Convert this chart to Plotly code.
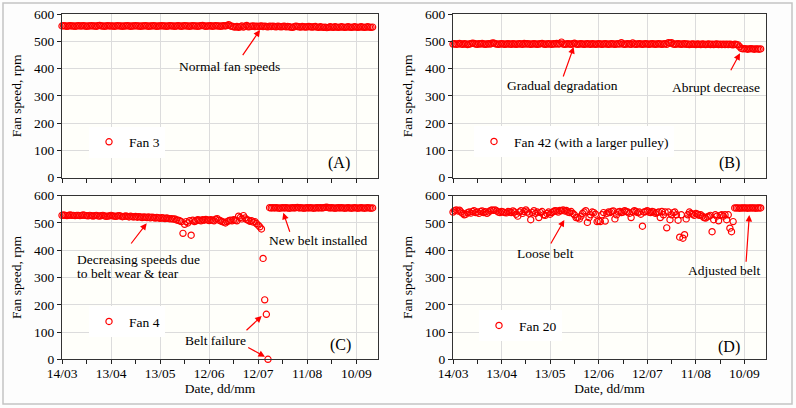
import pandas as pd
import plotly.graph_objects as go

W, H = 796, 408
START = "2015-03-14"

# ---------------- data (daily readings, starting 14/03) ----------------
fan3 = [556,557,556,555,556,557,556,556,555,556,
        557,556,556,557,556,555,556,556,557,556,
        556,555,557,558,556,556,555,556,557,556,
        556,556,555,556,557,556,556,555,556,556,
        557,556,555,556,556,557,556,556,555,556,
        556,557,556,555,556,556,557,556,555,556,
        556,557,556,556,555,556,557,556,556,555,
        556,557,556,555,556,557,556,556,555,556,
        557,556,556,555,556,557,558,556,555,556,
        556,557,555,556,557,556,556,555,556,557,
        556,558,561,556,555,553,552,554,551,553,
        556,552,555,558,553,554,555,556,554,555,
        554,555,556,554,555,554,553,555,554,555,
        554,553,555,554,553,554,555,553,554,553,
        552,551,553,555,554,553,552,554,553,552,
        553,554,553,552,553,554,552,551,553,552,
        551,552,550,551,553,552,551,553,552,551,
        552,553,552,551,552,553,552,551,552,553,
        552,551,552,553,552,551,552,553,552,551,
        552]

fan42 = [490,491,489,490,492,490,489,491,490,488,
         490,491,493,492,490,489,491,490,492,490,
         489,490,491,490,493,494,491,490,489,490,
         491,490,489,490,491,490,489,491,490,489,
         490,491,490,489,492,490,491,490,489,490,
         491,490,489,490,491,492,490,489,490,491,
         490,489,491,490,492,490,491,497,490,489,
         490,491,490,489,491,493,490,489,490,491,
         490,489,490,491,490,489,491,490,489,490,
         491,490,489,490,491,490,489,490,491,490,
         489,490,491,490,495,490,489,490,491,490,
         489,494,490,489,490,491,490,489,490,491,
         490,489,490,491,490,489,490,491,490,489,
         490,491,489,495,493,495,490,489,490,491,
         490,489,490,491,489,490,488,489,490,489,
         488,490,489,488,490,489,488,489,490,488,
         489,488,489,490,488,489,488,489,488,489,
         488,489,488,487,489,488,487,480,474,472,
         473,472,471,472,473,472,471,472,472,471,
         472]

fan4 = [528,529,528,527,528,529,528,528,527,528,
        528,527,528,529,528,527,526,528,527,525,
        527,528,526,525,527,528,526,524,525,526,
        528,526,525,524,526,527,525,523,524,526,
        524,522,525,523,522,524,521,523,522,520,
        522,521,520,522,519,521,520,518,520,519,
        517,519,518,516,518,517,515,516,514,515,
        511,510,508,505,462,495,505,500,508,455,
        510,505,508,512,510,508,512,510,513,511,
        509,512,510,508,514,516,510,508,505,503,
        500,505,508,510,508,512,510,508,525,520,
        515,527,518,512,510,506,508,503,505,498,
        492,486,478,370,218,165,0,556,555,556,
        555,556,555,554,555,556,555,556,555,554,
        555,556,555,556,557,555,556,555,554,555,
        556,555,556,555,554,555,556,555,556,555,
        556,557,558,556,555,556,555,554,555,556,
        555,556,555,554,555,556,555,554,555,556,
        555,554,555,556,555,554,555,556,555,554,
        555]

fan20 = [540,545,548,544,547,540,535,530,532,538,
         540,536,542,545,538,540,535,542,544,538,
         541,535,540,545,548,546,548,544,540,538,
         542,540,538,537,542,540,538,544,540,532,
         525,540,545,535,542,548,540,535,512,538,
         545,535,540,520,538,542,530,528,535,540,
         532,538,542,545,544,540,546,545,548,544,
         546,540,538,542,535,530,520,520,515,525,
         535,540,545,502,520,530,540,538,532,505,
         508,505,530,538,507,535,540,538,542,544,
         515,530,540,542,538,540,545,542,540,535,
         520,540,545,542,538,540,532,488,540,542,
         545,540,538,542,540,535,538,540,520,542,
         530,540,482,540,512,530,538,540,530,510,
         448,530,444,457,515,530,540,535,532,528,
         535,532,528,530,525,520,518,522,525,528,
         468,512,530,525,508,528,530,525,530,512,
         530,481,468,505,555,555,555,554,555,555,
         555,555,554,555,555,555,555,554,555,555,
         555]

fan_names = ["Fan 3", "Fan 42 (with a larger pulley)", "Fan 4", "Fan 20"]
panel_labels = ["(A)", "(B)", "(C)", "(D)"]
y_ticks = [0, 100, 200, 300, 400, 500, 600]
x_range_days = 193.3

FONT = "Liberation Serif"
RED = "#ff0000"


def dates_for(vals):
    return pd.date_range(START, periods=len(vals), freq="D")


def px_x(px):
    return px / W


def px_y(py):
    return 1 - py / H


fig = go.Figure()

series = [fan3, fan42, fan4, fan20]
legend_ids = ["legend", "legend2", "legend3", "legend4"]
for i, vals in enumerate(series):
    fig.add_trace(go.Scatter(
        x=dates_for(vals), y=vals, mode="markers", name=fan_names[i],
        marker=dict(symbol="circle-open", size=6.2, color=RED, line=dict(width=1.2, color=RED)),
        xaxis="x" if i == 0 else f"x{i+1}", yaxis="y" if i == 0 else f"y{i+1}",
        legend=legend_ids[i], showlegend=True, cliponaxis=False,
    ))

# ---------------- layout ----------------
x_left = [px_x(62), px_x(378)]
x_right = [px_x(453), px_x(766)]
y_top = [px_y(177.7), px_y(14)]
y_bot = [px_y(359.3), px_y(195.7)]
domains = [(x_left, y_top), (x_right, y_top), (x_left, y_bot), (x_right, y_bot)]

end_date = pd.Timestamp(START) + pd.Timedelta(days=x_range_days)
DAY_MS = 86400000

layout = dict(
    width=W, height=H,
    margin=dict(l=0, r=0, t=0, b=0),
    paper_bgcolor="#fdfdfd", plot_bgcolor="#fffffa",
    font=dict(family=FONT, size=13, color="black"),
)

for i, (xd, yd) in enumerate(domains):
    xn = "xaxis" if i == 0 else f"xaxis{i+1}"
    yn = "yaxis" if i == 0 else f"yaxis{i+1}"
    xa = "x" if i == 0 else f"x{i+1}"
    ya = "y" if i == 0 else f"y{i+1}"
    bottom = i >= 2
    layout[xn] = dict(
        domain=xd, anchor=ya, type="date",
        range=[pd.Timestamp(START), end_date],
        tick0=START, dtick=30 * DAY_MS, tickformat="%d/%m",
        ticks="outside", ticklen=4, tickcolor="#222", tickwidth=1,
        minor=dict(dtick=15 * DAY_MS, tick0=START, ticks="outside", ticklen=4,
                   tickcolor="#222", showgrid=False),
        showgrid=True, gridcolor="#dcdcdc", gridwidth=1,
        showline=True, mirror=True, linecolor="#333", linewidth=1.2,
        zeroline=False, showticklabels=bottom, ticklabelstandoff=-3,
        tickfont=dict(family=FONT, size=13.5),
        title=dict(text="Date, dd/mm" if bottom else "", font=dict(family=FONT, size=13.5), standoff=3),
        automargin=False,
    )
    layout[yn] = dict(
        domain=yd, anchor=xa, range=[0, 600], tickvals=y_ticks,
        ticks="outside", ticklen=4, tickcolor="#222",
        showgrid=True, gridcolor="#dcdcdc", gridwidth=1,
        showline=True, mirror=True, linecolor="#333", linewidth=1.2,
        zeroline=False, tickfont=dict(family=FONT, size=13.5),
        title=dict(text="Fan speed, rpm", font=dict(family=FONT, size=13.5), standoff=9),
        automargin=False,
    )

leg_pos = [(89, 142), (474, 141.7), (89, 321.7), (479, 325.7)]
for i, (lx, ly) in enumerate(leg_pos):
    layout[legend_ids[i]] = dict(
        x=px_x(lx), y=px_y(ly), xanchor="left", yanchor="middle",
        bgcolor="white", borderwidth=0, itemwidth=30,
        font=dict(family=FONT, size=13.5),
    )

fig.update_layout(**layout)

# ---------------- annotations ----------------
texts = [
    ("Normal fan speeds", 230, 67, "center"),
    ("Gradual degradation", 562, 85.7, "center"),
    ("Abrupt decrease", 715.5, 87.7, "center"),
    ("Decreasing speeds due", 75, 259.3, "left"),
    ("to belt wear &amp; tear", 75, 273.3, "left"),
    ("New belt installed", 318, 240, "center"),
    ("Belt failure", 215.8, 340, "center"),
    ("Loose belt", 545, 253.3, "center"),
    ("Adjusted belt", 724.3, 270, "center"),
]
for t, x, y, anc in texts:
    fig.add_annotation(text=t, x=px_x(x), y=px_y(y), xref="paper", yref="paper",
                       xanchor=anc, yanchor="middle", showarrow=False,
                       font=dict(family=FONT, size=13.5, color="black"))

label_pos = [(339, 163), (729, 163), (340, 345), (729, 346.7)]
for t, (x, y) in zip(panel_labels, label_pos):
    fig.add_annotation(text=t, x=px_x(x), y=px_y(y), xref="paper", yref="paper",
                       xanchor="center", yanchor="middle", showarrow=False,
                       font=dict(family=FONT, size=16, color="black"))

# arrows: (tail_x, tail_y, tip_x, tip_y) in pixels
arrows = [
    (241.7, 56.7, 260, 30),
    (562.7, 78, 573.7, 47),
    (730, 71.7, 740, 53.3),
    (130, 245, 146.7, 223.3),
    (290.3, 233.3, 283.3, 212.7),
    (245, 331.7, 261.7, 316),
    (246.7, 346.7, 265, 356.7),
    (550, 245, 564.3, 220),
    (746, 263.3, 749.3, 215),
]
for tx, ty, hx, hy in arrows:
    fig.add_annotation(text="", x=px_x(hx), y=px_y(hy), xref="paper", yref="paper",
                       ax=tx - hx, ay=ty - hy, showarrow=True,
                       arrowhead=2, arrowsize=1.1, arrowwidth=1.2, arrowcolor=RED, standoff=0)

# outer frame
fig.add_shape(type="rect", xref="paper", yref="paper",
              x0=px_x(3), x1=px_x(792), y0=px_y(404), y1=px_y(3),
              line=dict(color="#c4c4c4", width=1.5), fillcolor="rgba(0,0,0,0)", layer="below")

fig.write_html("out.html", config={"displayModeBar": False},
               post_script="document.body.style.margin='0px';document.body.style.overflow='hidden';")
